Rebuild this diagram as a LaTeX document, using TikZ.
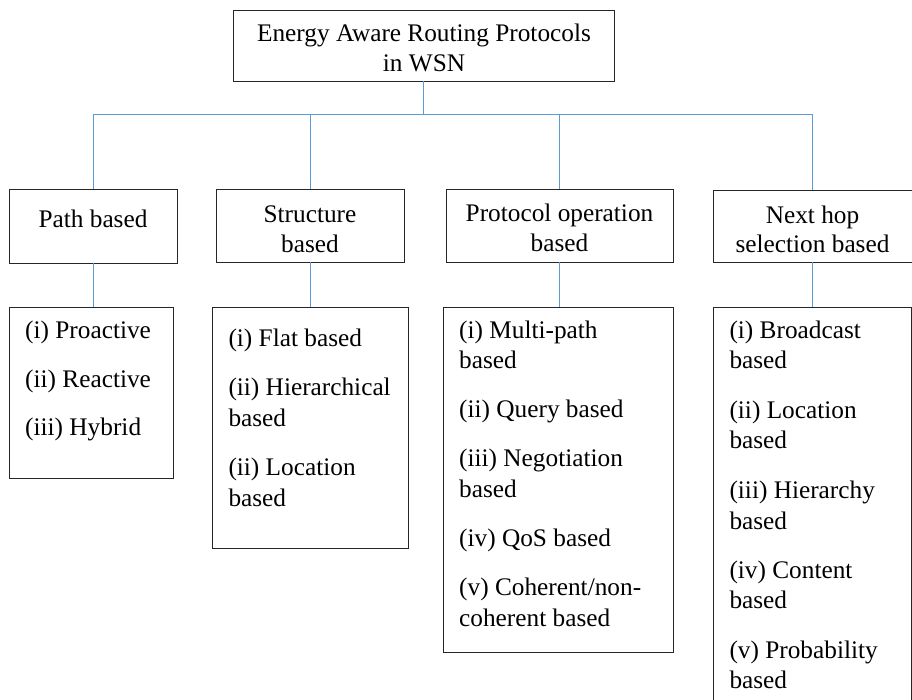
\documentclass[tikz,border=0pt]{standalone}
\usepackage{fontspec}
\setmainfont{Liberation Serif}
\definecolor{connblue}{RGB}{91,155,213}
\tikzset{
  box/.style={draw=black!85, line width=0.9pt, inner sep=0pt, fill=none},
  conn/.style={draw=connblue, line width=0.9pt},
  lt/.style={inner sep=0pt, font=\fontsize{25.3}{30}\selectfont}
}
\begin{document}
\begin{tikzpicture}[x=1pt,y=-1pt]
\useasboundingbox (0,0) rectangle (912,699);
\clip (0,0) rectangle (912,699);
% boxes
\node[box, minimum width=381.5pt, minimum height=71pt] (top) at (423.75,45.5) {};
\node[box, minimum width=168pt, minimum height=74pt] (b1) at (93,226) {};
\node[box, minimum width=188pt, minimum height=73pt] (b2) at (310,225.5) {};
\node[box, minimum width=227pt, minimum height=73pt] (b3) at (559.5,225.5) {};
\node[box, minimum width=199pt, minimum height=72pt] (b4) at (812.5,226) {};
\node[box, minimum width=164pt, minimum height=171pt] (c1) at (91,392.5) {};
\node[box, minimum width=196pt, minimum height=241pt] (c2) at (310,427.5) {};
\node[box, minimum width=230pt, minimum height=345pt] (c3) at (558,479.5) {};
\node[box, minimum width=198.5pt, minimum height=423pt] (c4) at (812.25,518.5) {};
% connectors
\coordinate (bus) at (0,114);
\draw[conn] (top.south) -- (top.south |- bus);
\draw[conn] (b1.north) |- (bus -| b4.north) -- (b4.north);
\draw[conn] (b2.north) -- (b2.north |- bus);
\draw[conn] (b3.north) -- (b3.north |- bus);
\draw[conn] (b1.south) -- (b1.south |- c1.north);
\draw[conn] (b2.south) -- (b2.south |- c2.north);
\draw[conn] (b3.south) -- (b3.south |- c3.north);
\draw[conn] (b4.south) -- (b4.south |- c4.north);
% top text
\node[lt, anchor=base] (t1) at (424,41.7) {Energy Aware Routing Protocols};
\node[lt, anchor=base] (t2) at (424,71.7) {in WSN};
% level 2 text
\node[lt, anchor=base] (l1a) at (93,227) {Path based};
\node[lt, anchor=base] (l2a) at (310,222) {Structure};
\node[lt, anchor=base] (l2b) at (310,252) {based};
\node[lt, anchor=base] (l3a) at (559.5,221) {Protocol operation};
\node[lt, anchor=base] (l3b) at (559.5,251.7) {based};
\node[lt, anchor=base] (l4a) at (812.5,223.3) {Next hop};
\node[lt, anchor=base] (l4b) at (812.5,252.7) {selection based};
% list 1
\node[lt, anchor=base west] (p1) at (25,338.3) {(i) Proactive};
\node[lt, anchor=base west] (p2) at (25,387.3) {(ii) Reactive};
\node[lt, anchor=base west] (p3) at (25,435) {(iii) Hybrid};
% list 2
\node[lt, anchor=base west] (s1) at (228.3,346.7) {(i) Flat based};
\node[lt, anchor=base west] (s2) at (228.3,395) {(ii) Hierarchical};
\node[lt, anchor=base west] (s3) at (228.3,426) {based};
\node[lt, anchor=base west] (s4) at (228.3,475.7) {(ii) Location};
\node[lt, anchor=base west] (s5) at (228.3,506.7) {based};
% list 3
\node[lt, anchor=base west] (o1) at (459,338.3) {(i) Multi-path};
\node[lt, anchor=base west] (o2) at (459,368.3) {based};
\node[lt, anchor=base west] (o3) at (459,417.3) {(ii) Query based};
\node[lt, anchor=base west] (o4) at (459,466.7) {(iii) Negotiation};
\node[lt, anchor=base west] (o5) at (459,497.3) {based};
\node[lt, anchor=base west] (o6) at (459,546) {(iv) QoS based};
\node[lt, anchor=base west] (o7) at (459,595.7) {(v) Coherent/non-};
\node[lt, anchor=base west] (o8) at (459,626) {coherent based};
% list 4
\node[lt, anchor=base west] (n1) at (729.3,338) {(i) Broadcast};
\node[lt, anchor=base west] (n2) at (729.3,368) {based};
\node[lt, anchor=base west] (n3) at (729.3,418.3) {(ii) Location};
\node[lt, anchor=base west] (n4) at (729.3,448.3) {based};
\node[lt, anchor=base west] (n5) at (729.3,498.3) {(iii) Hierarchy};
\node[lt, anchor=base west] (n6) at (729.3,529) {based};
\node[lt, anchor=base west] (n7) at (729.3,578.3) {(iv) Content};
\node[lt, anchor=base west] (n8) at (729.3,608.3) {based};
\node[lt, anchor=base west] (n9) at (729.3,658.3) {(v) Probability};
\node[lt, anchor=base west] (n10) at (729.3,688.3) {based};
\end{tikzpicture}
\end{document}
